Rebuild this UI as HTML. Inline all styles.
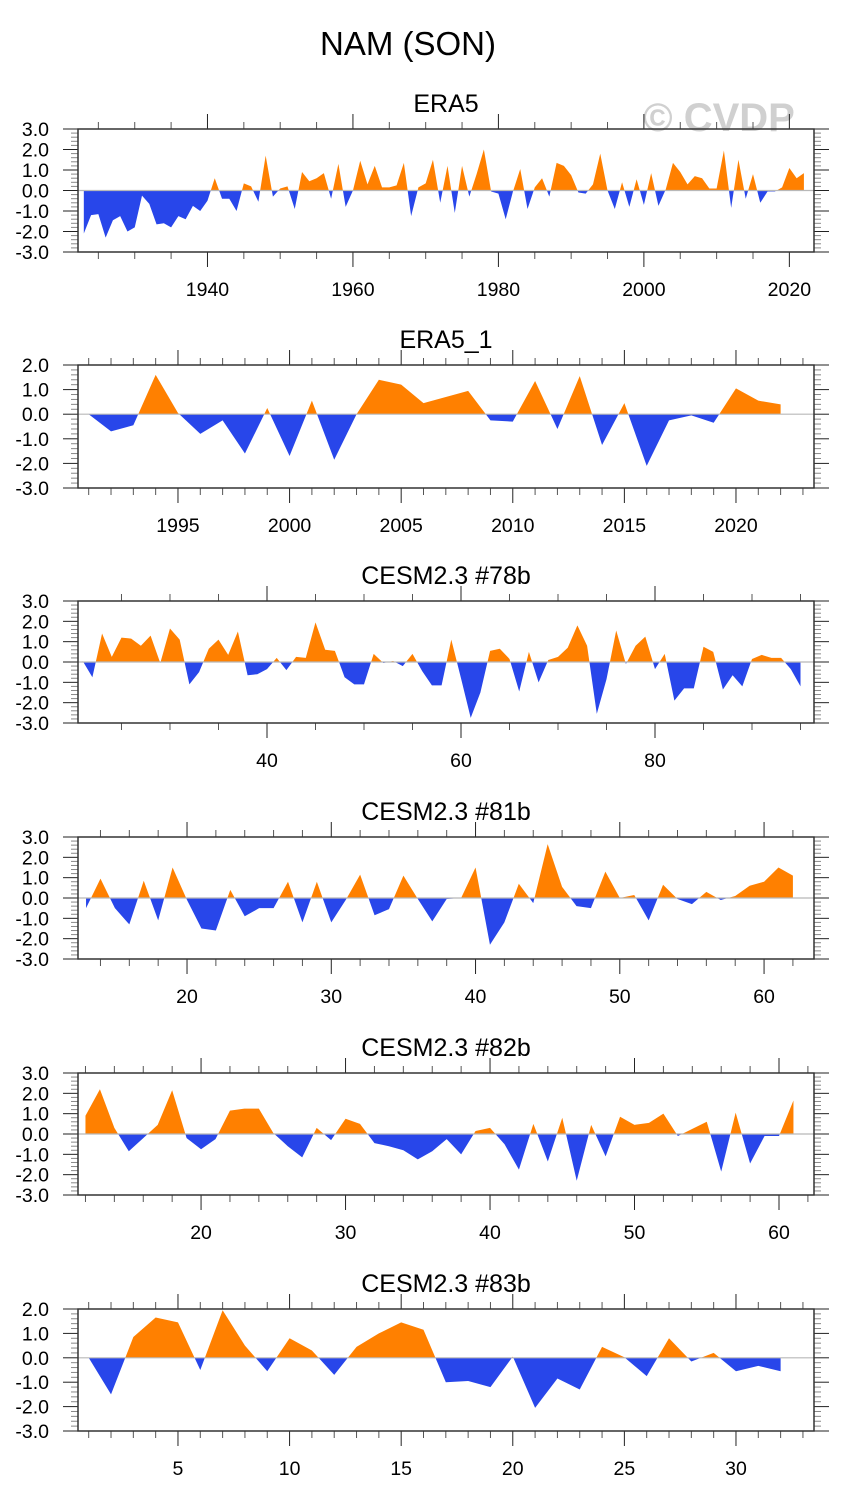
<!DOCTYPE html>
<html><head><meta charset="utf-8"><style>
body{margin:0;background:#fff;}
svg{display:block;font-family:"Liberation Sans",Arial,sans-serif;}
</style></head><body>
<svg id="chart" width="845" height="1506" viewBox="0 0 845 1506" xmlns="http://www.w3.org/2000/svg">
<text x="408" y="55" font-size="33" text-anchor="middle">NAM (SON)</text>
<text x="719" y="131" font-size="40" font-weight="bold" fill="#d0d0d0" text-anchor="middle">© CVDP</text>
</svg>
<script>
const era5Start = 1923;
const era5Values = [-2.1,-1.2,-1.15,-2.3,-1.45,-1.25,-2.0,-1.8,-0.25,-0.65,-1.65,-1.6,-1.8,-1.25,-1.4,-0.75,-1.0,-0.5,0.6,-0.4,-0.4,-1.0,0.35,0.2,-0.55,1.7,-0.3,0.1,0.2,-0.9,0.9,0.45,0.6,0.85,-0.4,1.3,-0.8,0.0,1.45,0.3,1.2,0.15,0.15,0.25,1.35,-1.25,0.15,0.35,1.5,-0.6,1.2,-1.1,1.2,-0.3,0.8,2.0,-0.05,-0.15,-1.4,-0.05,1.05,-0.9,0.15,0.6,-0.3,1.35,1.2,0.75,-0.1,-0.15,0.3,1.8,0.0,-0.9,0.4,-0.8,0.55,-0.7,0.85,-0.75,0.05,1.35,0.9,0.3,0.7,0.6,0.1,0.1,1.95,-0.85,1.5,-0.4,0.8,-0.6,-0.05,-0.05,0.15,1.1,0.6,0.85];
const era5_1Start = 1991;
const era5_1Values = [0.0,-0.7,-0.45,1.6,0.05,-0.8,-0.25,-1.6,0.25,-1.7,0.55,-1.85,0.0,1.4,1.2,0.45,0.7,0.95,-0.25,-0.3,1.35,-0.6,1.55,-1.25,0.45,-2.1,-0.25,-0.05,-0.35,1.05,0.55,0.4];
const cesm78Start = 21;
const cesm78Values = [0.05,-0.75,1.4,0.25,1.2,1.15,0.8,1.3,-0.05,1.65,1.1,-1.1,-0.5,0.65,1.1,0.35,1.5,-0.65,-0.6,-0.35,0.2,-0.4,0.25,0.2,1.95,0.6,0.55,-0.75,-1.1,-1.1,0.4,-0.05,0.05,-0.2,0.4,-0.45,-1.15,-1.15,1.1,-0.8,-2.75,-1.5,0.55,0.65,0.15,-1.45,0.5,-1.0,0.1,0.25,0.7,1.8,0.8,-2.55,-0.85,1.55,-0.1,0.8,1.25,-0.35,0.4,-1.9,-1.3,-1.3,0.75,0.5,-1.35,-0.65,-1.2,0.15,0.35,0.2,0.2,-0.35,-1.2];
const cesm81Start = 13;
const cesm81Values = [-0.5,0.95,-0.5,-1.3,0.85,-1.1,1.5,-0.1,-1.5,-1.6,0.4,-0.9,-0.5,-0.5,0.8,-1.2,0.8,-1.2,-0.1,1.15,-0.85,-0.55,1.1,-0.05,-1.15,-0.05,0.0,1.5,-2.3,-1.2,0.7,-0.25,2.65,0.55,-0.4,-0.5,1.3,0.0,0.15,-1.1,0.65,-0.05,-0.3,0.3,-0.1,0.1,0.6,0.8,1.5,1.1];
const cesm82Start = 12;
const cesm82Values = [0.9,2.2,0.3,-0.85,-0.2,0.45,2.15,-0.2,-0.75,-0.25,1.15,1.25,1.25,0.05,-0.6,-1.15,0.3,-0.3,0.75,0.5,-0.45,-0.6,-0.8,-1.25,-0.85,-0.25,-1.0,0.15,0.3,-0.5,-1.75,0.5,-1.35,0.8,-2.3,0.45,-1.1,0.85,0.45,0.55,1.0,-0.1,0.25,0.6,-1.85,1.05,-1.45,-0.1,-0.1,1.65];
const cesm83Start = 1;
const cesm83Values = [0.0,-1.5,0.85,1.65,1.45,-0.5,1.95,0.5,-0.55,0.8,0.3,-0.7,0.45,1.0,1.45,1.15,-1.0,-0.95,-1.2,0.05,-2.05,-0.85,-1.3,0.45,0.02,-0.75,0.8,-0.15,0.2,-0.55,-0.33,-0.55];
const yTickLabels3 = ["3.0","2.0","1.0","0.0","-1.0","-2.0","-3.0"];
const yTickLabels2 = ["2.0","1.0","0.0","-1.0","-2.0","-3.0"];
const xTicks1 = [1940,1960,1980,2000,2020];
const xTicks2 = [1995,2000,2005,2010,2015,2020];
const xTicks3 = [40,60,80];
const xTicks4 = [20,30,40,50,60];
const xTicks5 = [20,30,40,50,60];
const xTicks6 = [5,10,15,20,25,30];

const NS="http://www.w3.org/2000/svg";
const svg=document.getElementById('chart');
function mk(tag,attrs,parent){const e=document.createElementNS(NS,tag);for(const k in attrs)e.setAttribute(k,attrs[k]);(parent||svg).appendChild(e);return e;}

const panels=[
 {name:'era5',title:'ERA5',top:129,bot:252,ymax:3,yl:yTickLabels3,x0:1922.75,x1:2023.8,start:era5Start,vals:era5Values,ticks:xTicks1,minor:5},
 {name:'era5-1',title:'ERA5_1',top:365,bot:488,ymax:2,yl:yTickLabels2,x0:1990.7,x1:2023.63,start:era5_1Start,vals:era5_1Values,ticks:xTicks2,minor:1},
 {name:'cesm-78b',title:'CESM2.3 #78b',top:601,bot:723,ymax:3,yl:yTickLabels3,x0:20.93,x1:96.7,start:cesm78Start,vals:cesm78Values,ticks:xTicks3,minor:5},
 {name:'cesm-81b',title:'CESM2.3 #81b',top:837,bot:959,ymax:3,yl:yTickLabels3,x0:12.72,x1:63.67,start:cesm81Start,vals:cesm81Values,ticks:xTicks4,minor:2},
 {name:'cesm-82b',title:'CESM2.3 #82b',top:1073,bot:1195,ymax:3,yl:yTickLabels3,x0:11.76,x1:62.63,start:cesm82Start,vals:cesm82Values,ticks:xTicks5,minor:2},
 {name:'cesm-83b',title:'CESM2.3 #83b',top:1309,bot:1431,ymax:2,yl:yTickLabels2,x0:0.7,x1:33.63,start:cesm83Start,vals:cesm83Values,ticks:xTicks6,minor:1}
];
const L=82,R=817;
const FL=78,FR=814;
panels.forEach((p,pi)=>{
 const g=mk('g',{});
 
 
 const ymin=-3;
 const sx=v=>L+(v-p.x0)/(p.x1-p.x0)*(R-L);
 const sy=v=>p.top+(p.ymax-v)/(p.ymax-ymin)*(p.bot-p.top);
 const t=mk('text',{x:446,y:p.top-17,'font-size':25,'text-anchor':'middle'},g);
 t.textContent=p.title;
 
 
 const y0=sy(0);
 const defs=mk('defs',{},g);
 const ca=mk('clipPath',{id:'ca'+pi},defs);mk('rect',{x:FL,y:p.top,width:FR-FL,height:y0-p.top},ca);
 const cb=mk('clipPath',{id:'cb'+pi},defs);mk('rect',{x:FL,y:y0,width:FR-FL,height:p.bot-y0},cb);
 let d='M'+sx(p.start)+','+y0;
 p.vals.forEach((v,i)=>{d+=' L'+sx(p.start+i).toFixed(2)+','+sy(v).toFixed(2);});
 d+=' L'+sx(p.start+p.vals.length-1)+','+y0+' Z';
 const pos=mk('path',{d:d,fill:'#ff8000','clip-path':'url(#ca'+pi+')'},g);
 
 
 const neg=mk('path',{d:d,fill:'#2846ea','clip-path':'url(#cb'+pi+')'},g);
 
 
 const zl=mk('line',{x1:FL,x2:FR,y1:y0,y2:y0,stroke:'#b8b8b8','stroke-width':1.2},g);
 
 
 for(let k=0;k<=Math.round((p.ymax-ymin)*5);k++){
  const v=ymin+k*0.2;
  const yy=sy(v);const major=(k%5===0);const len=major?15:7;const col=major?'#222':'#888';
  mk('line',{x1:FL,x2:FL-len,y1:yy,y2:yy,stroke:col,'stroke-width':1},g);
  mk('line',{x1:FR,x2:FR+len,y1:yy,y2:yy,stroke:col,'stroke-width':1},g);
 }
 p.yl.forEach((lab,i)=>{
  const tx=mk('text',{x:49,y:sy(p.ymax-i)+7,'font-size':19.5,'text-anchor':'end'},g);
  tx.textContent=lab;
  
  
 });
 const step=p.minor;
 for(let v=Math.ceil(p.x0/step)*step;v<=p.x1;v+=step){
  const xx=sx(v);if(xx<FL||xx>FR)continue;const major=p.ticks.indexOf(v)>=0;const len=major?15:7;const col=major?'#222':'#555';
  mk('line',{x1:xx,x2:xx,y1:p.bot,y2:p.bot+len,stroke:col,'stroke-width':1},g);
  mk('line',{x1:xx,x2:xx,y1:p.top,y2:p.top-len,stroke:col,'stroke-width':1},g);
 }
 p.ticks.forEach(v=>{
  const tx=mk('text',{x:sx(v),y:p.bot+44,'font-size':19.5,'text-anchor':'middle'},g);
  tx.textContent=v;
  
  
 });
 const box=mk('rect',{x:FL,y:p.top,width:FR-FL,height:p.bot-p.top,fill:'none',stroke:'#333','stroke-width':1.5},g);
 
 
});
</script>
</body></html>
